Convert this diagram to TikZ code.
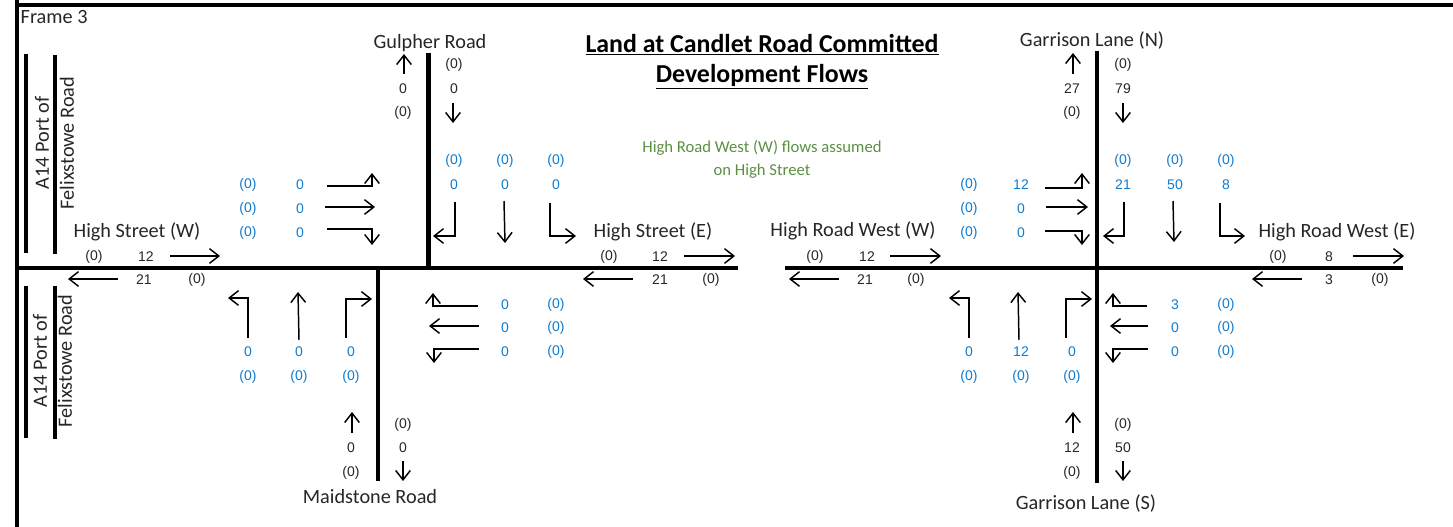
\documentclass[tikz,border=0pt]{standalone}
\usepackage{fontspec}
\setmainfont{Carlito}
\newfontfamily\numfont{Liberation Sans}
\usepackage[svgnames]{xcolor}
\usetikzlibrary{arrows.meta}
\definecolor{peakblue}{HTML}{0F7CCF}
\definecolor{notegreen}{HTML}{5B8F42}
\tikzset{
	road/.style={-, line width=2.4pt, color=black},
	bar/.style={-, line width=3.4pt, color=black},
	lbl/.style={font=\fontsize{15.2}{17}\selectfont, inner sep=0pt, color=black!85},
	num/.style={font=\fontsize{10.5}{12}\selectfont\numfont, inner sep=0pt, color=black!85},
	flow/.style={num, color=peakblue},
}
\begin{document}
\begin{tikzpicture}[x=.75pt, y=-.75pt, line width=1.1pt, -{Straight Barb[length=7pt, width=11pt]}]
	\useasboundingbox (0,0) rectangle (1453,527);
	% frame
	\draw[bar, line width=2.6pt] (17,527) -- (17,0);
	\draw[bar, line width=2.6pt] (16,5) -- (1453,5);
	\node[lbl, anchor=west] (frame) at (20,17) {Frame 3};
	% title and note
	\node[font=\fontsize{19.4}{22}\selectfont\bfseries, inner sep=0pt] (title1) at (762,45) {\underline{Land at Candlet Road Committed}};
	\node[font=\fontsize{19.4}{22}\selectfont\bfseries, inner sep=0pt] (title2) at (762,77) {\underline{Development Flows}};
	\node[lbl, font=\fontsize{12.5}{14}\selectfont, color=notegreen] (note1) at (762,148) {High Road West (W) flows assumed};
	\node[lbl, font=\fontsize{12.5}{14}\selectfont, color=notegreen] (note2) at (762,171) {on High Street};
	% A14 side bars
	\draw[bar] (26,54) -- (26,253);
	\draw[bar] (55,55) -- (55,254);
	\node[lbl, rotate=90] (a14up1) at (42,143) {A14 Port of};
	\node[lbl, rotate=90] (a14up2) at (67,143) {Felixstowe Road};
	\draw[bar] (26,286) -- (26,438);
	\draw[bar] (55,286) -- (55,439);
	\node[lbl, rotate=90] (a14lo1) at (40,361) {A14 Port of};
	\node[lbl, rotate=90] (a14lo2) at (65,361) {Felixstowe Road};

	% left junction
	\draw[road] (18,268) -- (738,268);
	\draw[bar] (428.5,53) -- (428.5,268);
	\draw[bar] (378,268) -- (378,481);
	\node[lbl] (gulpher) at (430,43) {Gulpher Road};
	\node[lbl] (maidstone) at (370,497) {Maidstone Road};
	\node[lbl] (hsw) at (137,232) {High Street (W)};
	\node[lbl] (hse) at (653,232) {High Street (E)};
	% north arm
	\draw (404,74) -- (404,54);
	\draw (453,103) -- (453,123);
	\node[num] (gn1) at (454,65) {(0)};
	\node[num] (gn2) at (403,89) {0};
	\node[num] (gn3) at (454,89) {0};
	\node[num] (gn4) at (403,113) {(0)};
	\node[flow] (gs1) at (454,161) {(0)};
	\node[flow] (gs2) at (505,161) {(0)};
	\node[flow] (gs3) at (556,161) {(0)};
	\node[flow] (gs4) at (454,185) {0};
	\node[flow] (gs5) at (505,185) {0};
	\node[flow] (gs6) at (556,185) {0};
	\draw (455,202) -- (455,236) -- (433,236);
	\draw (504,201) -- (505,243);
	\draw (550,203) -- (550,236) -- (576,236);
	% west arm
	\draw (170,256) -- (220,256);
	\draw (118,279) -- (68,279);
	\node[num] (hw1) at (94,257) {(0)};
	\node[num] (hw2) at (146,257) {12};
	\node[num] (hw3) at (144,280) {21};
	\node[num] (hw4) at (197,280) {(0)};
	\node[flow] (we1) at (248,185) {(0)};
	\node[flow] (we2) at (248,209) {(0)};
	\node[flow] (we3) at (248,233) {(0)};
	\node[flow] (we4) at (300,185) {0};
	\node[flow] (we5) at (300,209) {0};
	\node[flow] (we6) at (300,233) {0};
	\draw (327,186) -- (372,186) -- (372,173);
	\draw (325,207) -- (375,207);
	\draw (327,229) -- (372,229) -- (372,245);
	% east arm
	\draw (684,256) -- (735,256);
	\draw (633,279) -- (583,279);
	\node[num] (he1) at (609,257) {(0)};
	\node[num] (he2) at (660,257) {12};
	\node[num] (he3) at (660,280) {21};
	\node[num] (he4) at (711,280) {(0)};
	\draw (478,306) -- (433,306) -- (433,293);
	\draw (479,326) -- (429,326);
	\draw (479,349) -- (434,349) -- (434,363);
	\node[flow] (ew1) at (505,305) {0};
	\node[flow] (ew2) at (505,328) {0};
	\node[flow] (ew3) at (505,352) {0};
	\node[flow] (ew4) at (556,305) {(0)};
	\node[flow] (ew5) at (556,328) {(0)};
	\node[flow] (ew6) at (556,352) {(0)};
	% south arm
	\draw (248,338) -- (248,298) -- (228,298);
	\draw (299,340) -- (298,292);
	\draw (346,338) -- (346,299) -- (372,299);
	\node[flow] (sn1) at (248,352) {0};
	\node[flow] (sn2) at (299,352) {0};
	\node[flow] (sn3) at (351,352) {0};
	\node[flow] (sn4) at (248,377) {(0)};
	\node[flow] (sn5) at (299,377) {(0)};
	\node[flow] (sn6) at (351,377) {(0)};
	\draw (352,433) -- (352,412);
	\draw (403,461) -- (403,481);
	\node[num] (ms1) at (403,425) {(0)};
	\node[num] (ms2) at (351,448) {0};
	\node[num] (ms3) at (403,448) {0};
	\node[num] (ms4) at (351,473) {(0)};

	% right junction
	\draw[road] (785,268) -- (1403,268);
	\draw[bar] (1097,51) -- (1097,483);
	\node[lbl] (gln) at (1092,40) {Garrison Lane (N)};
	\node[lbl] (gls) at (1086,503) {Garrison Lane (S)};
	\node[lbl] (hrw) at (853,231) {High Road West (W)};
	\node[lbl] (hre) at (1337,232) {High Road West (E)};
	% north arm
	\draw (1073,74) -- (1073,53);
	\draw (1123,103) -- (1123,123);
	\node[num] (rn1) at (1123,65) {(0)};
	\node[num] (rn2) at (1072,89) {27};
	\node[num] (rn3) at (1123,89) {79};
	\node[num] (rn4) at (1072,113) {(0)};
	\node[flow] (rs1) at (1123,161) {(0)};
	\node[flow] (rs2) at (1175,161) {(0)};
	\node[flow] (rs3) at (1226,161) {(0)};
	\node[flow] (rs4) at (1123,185) {21};
	\node[flow] (rs5) at (1175,185) {50};
	\node[flow] (rs6) at (1226,185) {8};
	\draw (1124,202) -- (1124,236) -- (1103,236);
	\draw (1173,201) -- (1174,242);
	\draw (1220,203) -- (1220,236) -- (1245,236);
	% west arm
	\draw (890,256) -- (941,256);
	\draw (839,279) -- (789,279);
	\node[num] (rw1) at (815,257) {(0)};
	\node[num] (rw2) at (867,257) {12};
	\node[num] (rw3) at (865,280) {21};
	\node[num] (rw4) at (916,280) {(0)};
	\node[flow] (re1) at (969,185) {(0)};
	\node[flow] (re2) at (969,209) {(0)};
	\node[flow] (re3) at (969,233) {(0)};
	\node[flow] (re4) at (1021,185) {12};
	\node[flow] (re5) at (1021,209) {0};
	\node[flow] (re6) at (1021,233) {0};
	\draw (1045,188) -- (1082,188) -- (1082,173);
	\draw (1046,207) -- (1088,207);
	\draw (1045,231) -- (1082,231) -- (1082,245);
	% east arm
	\draw (1353,256) -- (1404,256);
	\draw (1302,279) -- (1252,279);
	\node[num] (rr1) at (1278,257) {(0)};
	\node[num] (rr2) at (1329,257) {8};
	\node[num] (rr3) at (1329,280) {3};
	\node[num] (rr4) at (1380,280) {(0)};
	\draw (1147,306) -- (1113,306) -- (1113,293);
	\draw (1148,326) -- (1110,326);
	\draw (1148,349) -- (1113,349) -- (1113,363);
	\node[flow] (rv1) at (1175,305) {3};
	\node[flow] (rv2) at (1175,328) {0};
	\node[flow] (rv3) at (1175,352) {0};
	\node[flow] (rv4) at (1226,305) {(0)};
	\node[flow] (rv5) at (1226,328) {(0)};
	\node[flow] (rv6) at (1226,352) {(0)};
	% south arm
	\draw (969,338) -- (969,298) -- (949,298);
	\draw (1019,340) -- (1018,292);
	\draw (1066,338) -- (1066,299) -- (1092,299);
	\node[flow] (rb1) at (969,352) {0};
	\node[flow] (rb2) at (1021,352) {12};
	\node[flow] (rb3) at (1072,352) {0};
	\node[flow] (rb4) at (969,377) {(0)};
	\node[flow] (rb5) at (1021,377) {(0)};
	\node[flow] (rb6) at (1072,377) {(0)};
	\draw (1073,433) -- (1073,412);
	\draw (1123,461) -- (1123,481);
	\node[num] (rl1) at (1123,425) {(0)};
	\node[num] (rl2) at (1072,448) {12};
	\node[num] (rl3) at (1123,448) {50};
	\node[num] (rl4) at (1072,473) {(0)};
\end{tikzpicture}
\end{document}
